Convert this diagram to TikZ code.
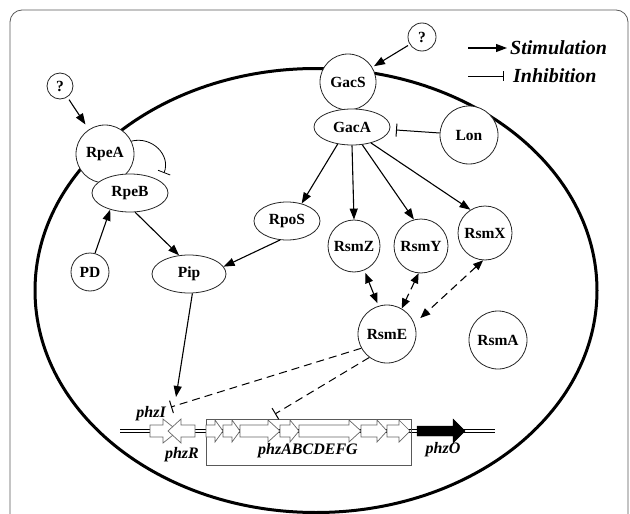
\documentclass[tikz,border=0pt]{standalone}
\usepackage{fontspec}
\setmainfont{Liberation Serif}
\usetikzlibrary{arrows.meta,shapes.geometric}

\tikzset{
  prot/.style={circle, draw=black!85, line width=0.8pt, fill=white, inner sep=0pt,
    font=\fontsize{15.5}{18}\selectfont\bfseries},
  protell/.style={prot, ellipse},
  stim/.style={-{Triangle[length=11pt,width=8pt]}, line width=1.1pt},
  bistim/.style={{Triangle[length=10pt,width=8pt]}-{Triangle[length=10pt,width=8pt]}, line width=1.1pt},
  inhib/.style={-{Bar[width=13pt]}, line width=1pt},
  dashy/.style={dash pattern=on 8pt off 5pt},
  gene/.style={draw=black!60, line width=0.7pt, fill=white},
  genelab/.style={font=\fontsize{16}{19}\selectfont\bfseries\itshape, inner sep=0pt},
  legendlab/.style={font=\fontsize{20}{24}\selectfont\bfseries\itshape, inner sep=0pt},
}

\begin{document}
\begin{tikzpicture}[x=1pt, y=-1pt]
  \useasboundingbox (0,0) rectangle (630,514);

  % frame and cell
  \draw[black!65, line width=0.8pt, rounded corners=12pt] (10,10) rectangle (628,560);
  \draw[line width=3pt] (316,290.5) ellipse [x radius=281pt, y radius=222pt];

  % proteins
  \node[prot, minimum size=26pt] (q1) at (60,86) {?};
  \node[prot, minimum size=58pt] (rpeA) at (105,154) {RpeA};
  \node[protell, minimum width=76pt, minimum height=38pt] (rpeB) at (130,193) {RpeB};
  \node[prot, minimum size=38pt] (pd) at (90,272) {PD};
  \node[protell, minimum width=74pt, minimum height=38pt] (pip) at (189,274) {Pip};
  \node[protell, minimum width=66pt, minimum height=38pt] (rpoS) at (287,221) {RpoS};
  \node[prot, minimum size=56pt] (gacS) at (348,82) {GacS};
  \node[prot, minimum size=28pt] (q2) at (422,37) {?};
  \node[protell, minimum width=76pt, minimum height=36pt] (gacA) at (352,127) {GacA};
  \node[prot, minimum size=58pt] (lon) at (469,135) {Lon};
  \node[prot, minimum size=52pt] (rsmZ) at (354,246) {RsmZ};
  \node[prot, minimum size=54pt] (rsmY) at (421,246) {RsmY};
  \node[prot, minimum size=54pt] (rsmX) at (485,233) {RsmX};
  \node[prot, minimum size=58pt] (rsmE) at (387,334) {RsmE};
  \node[prot, minimum size=58pt] (rsmA) at (498,340) {RsmA};

  % phz operon
  \draw[double=white, double distance=2.5pt, line width=0.7pt] (120,431) -- (495,431);
  \draw[black!65, line width=0.8pt] (206,419) rectangle (411,465);
  \draw[gene] (150,425) -- (163,425) -- (163,419) -- (178,431) -- (163,443) -- (163,437) -- (150,437) -- cycle;
  \draw[gene] (195,425) -- (181,425) -- (181,419) -- (168,431) -- (181,443) -- (181,437) -- (195,437) -- cycle;
  \foreach \xa/\xb/\hl in {206/223/8, 223/240/8, 240/280/12, 280/299/9, 299/361/12, 361/387/10, 387/410/11}
    \draw[gene] (\xa,425) -- (\xb-\hl,425) -- (\xb-\hl,420) -- (\xb,431) -- (\xb-\hl,442)
      -- (\xb-\hl,437) -- (\xa,437) -- cycle;
  \draw[fill=black] (417,426) -- (453,426) -- (453,419) -- (465,431) -- (453,443) -- (453,436) -- (417,436) -- cycle;

  \node[genelab, anchor=base east] (phzIlab) at (166,417) {phzI};
  \node[genelab, anchor=base] (phzRlab) at (182,458) {phzR};
  \node[genelab, anchor=base] (phzAlab) at (308,454) {phzABCDEFG};
  \node[genelab, anchor=base] (phzOlab) at (443,453) {phzO};

  \coordinate (rpeBbar) at (164,173);
  \coordinate (phzIprom) at (176,397);
  \coordinate (phzIbar) at (171,407);
  \coordinate (phzAbar) at (275,414);

  % legend
  \coordinate (stimS) at (468,48);
  \coordinate (stimE) at (507,48);
  \coordinate (inhS) at (468,76);
  \coordinate (inhE) at (504,76);
  \node[legendlab, anchor=base west] (stimTxt) at (510,54) {Stimulation};
  \node[legendlab, anchor=base west] (inhTxt) at (513,82) {Inhibition};
  \draw[stim] (stimS) -- (stimE);
  \draw[-{Bar[width=10pt]}, line width=0.9pt] (inhS) -- (inhE);

  % connections
  \draw[stim, shorten <=3pt, shorten >=6pt] (q1) -- (rpeA);
  \draw[stim, shorten <=2pt, shorten >=2pt] (q2) -- (gacS);
  \draw[inhib, line width=0.8pt] (rpeA.26) .. controls (152,136) and (171,155) .. (rpeBbar);
  \draw[inhib, shorten >=6pt] (lon) -- (gacA);
  \draw[stim] (pd.75) -- (rpeB.-140);
  \draw[stim] (rpeB.-75) -- (pip.118);
  \draw[stim] (rpoS.-110) -- (pip.12);
  \draw[stim] (gacA.-130) -- (rpoS.50);
  \draw[stim] (gacA.south) -- (rsmZ.north);
  \draw[stim] (gacA.-60) -- (rsmY.105);
  \draw[stim] (gacA.-40) -- (rsmX.122);
  \draw[bistim, shorten <=3pt, shorten >=3pt] (rsmZ.-67) -- (rsmE.107);
  \draw[bistim, dashy] (rsmY.-95) -- (rsmE.60);
  \draw[bistim, dashy, shorten >=8pt] (rsmX.-94) -- (rsmE.21);
  \draw[stim] (pip.-80) -- (phzIprom);
  \draw[inhib, dashy] (rsmE.209) -- (phzIbar);
  \draw[inhib, dashy] (rsmE.233) -- (phzAbar);
\end{tikzpicture}
\end{document}
